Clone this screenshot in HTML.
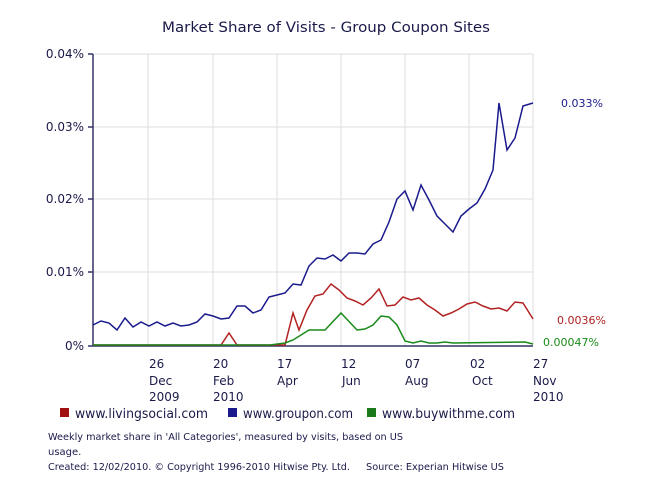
<!DOCTYPE html>
<html><head><style>
body{margin:0;background:#fff;font-family:"DejaVu Sans","Liberation Sans",sans-serif;}
</style></head><body>
<svg width="647" height="487" xmlns="http://www.w3.org/2000/svg" font-family="DejaVu Sans, Liberation Sans, sans-serif">
<rect width="647" height="487" fill="#fff"/>
<text x="162" y="32" font-size="14" fill="#1a1a4a" textLength="328" lengthAdjust="spacingAndGlyphs">Market Share of Visits - Group Coupon Sites</text>
<g stroke="#ddd" stroke-width="1">
<line x1="93" y1="54" x2="533" y2="54"/><line x1="93" y1="127" x2="533" y2="127"/>
<line x1="93" y1="199" x2="533" y2="199"/><line x1="93" y1="272" x2="533" y2="272"/>
<line x1="148" y1="54" x2="148" y2="345"/><line x1="213" y1="54" x2="213" y2="345"/>
<line x1="277" y1="54" x2="277" y2="345"/><line x1="341" y1="54" x2="341" y2="345"/>
<line x1="405" y1="54" x2="405" y2="345"/><line x1="469" y1="54" x2="469" y2="345"/>
<line x1="533" y1="54" x2="533" y2="345"/>
</g>
<g stroke="#333366" stroke-width="1.5">
<line x1="93" y1="54" x2="93" y2="346"/><line x1="93" y1="346" x2="533" y2="346"/>
<line x1="88" y1="54" x2="93" y2="54"/><line x1="88" y1="127" x2="93" y2="127"/>
<line x1="88" y1="199" x2="93" y2="199"/><line x1="88" y1="272" x2="93" y2="272"/><line x1="88" y1="346" x2="93" y2="346"/>
</g>
<g font-size="12" fill="#1a1a4a" text-anchor="end">
<text x="84" y="58">0.04%</text><text x="84" y="131">0.03%</text><text x="84" y="203">0.02%</text><text x="84" y="276">0.01%</text><text x="84" y="350">0%</text>
</g>
<g font-size="12" fill="#1a1a4a">
<text x="149" y="368">26</text><text x="149" y="385">Dec</text><text x="149" y="401">2009</text>
<text x="213" y="368">20</text><text x="213" y="385">Feb</text><text x="213" y="401">2010</text>
<text x="277" y="368">17</text><text x="277" y="385">Apr</text>
<text x="341" y="368">12</text><text x="342" y="385">Jun</text>
<text x="405" y="368">07</text><text x="405" y="385">Aug</text>
<text x="470" y="368">02</text><text x="472" y="385">Oct</text>
<text x="533" y="368">27</text><text x="533" y="385">Nov</text><text x="533" y="401">2010</text>
</g>
<polyline fill="none" stroke="#1a1a8c" stroke-width="1.5" points="93,325 101,321 109,323 117,330 125,318 133,327 141,322 149,326 157,322 165,326 173,323 181,326 189,325 197,322 205,314 213,316 221,319 229,318 237,306 245,306 253,313 261,310 269,297 277,295 285,293 293,284 301,285 309,266 317,258 325,259 333,255 341,261 349,253 357,253 365,254 373,244 381,240 389,222 397,199 405,191 413,210 421,185 429,200 437,216 445,224 453,232 461,216 469,209 477,203 485,189 493,170 499,103 507,150 515,138 523,106 533,103"/>
<polyline fill="none" stroke="#b22222" stroke-width="1.5" points="93,345 221,345 229,333 237,345 285,345 293,313 299,330 307,310 315,296 323,294 331,284 339,290 347,298 355,301 363,305 371,298 379,289 387,306 395,305 403,297 411,300 419,298 427,305 435,310 443,316 451,313 459,309 467,304 475,302 483,306 491,309 499,308 507,311 515,302 523,303 533,319"/>
<polyline fill="none" stroke="#1a8a1a" stroke-width="1.5" points="93,345 270,345 285,343 293,340 301,335 309,330 325,330 341,313 357,330 365,329 373,325 381,316 389,317 397,325 405,341 413,343 421,341 429,343 437,343 445,342 453,343 525,342 533,344"/>
<g font-size="11">
<text x="561" y="107" fill="#1a1a8c">0.033%</text>
<text x="557" y="324" fill="#b22222">0.0036%</text>
<text x="543" y="346" fill="#1a8a1a">0.00047%</text>
</g>
<g font-size="13" fill="#1a1a4a">
<rect x="60" y="408" width="9" height="9" fill="#a01010"/><text x="75" y="418" textLength="133" lengthAdjust="spacingAndGlyphs">www.livingsocial.com</text>
<rect x="228" y="408" width="9" height="9" fill="#1a1a8c"/><text x="243" y="418" textLength="110" lengthAdjust="spacingAndGlyphs">www.groupon.com</text>
<rect x="367" y="408" width="9" height="9" fill="#1a7a1a"/><text x="382" y="418" textLength="133" lengthAdjust="spacingAndGlyphs">www.buywithme.com</text>
</g>
<g font-size="10" fill="#1a1a4a">
<text x="48" y="440" textLength="355" lengthAdjust="spacingAndGlyphs">Weekly market share in 'All Categories', measured by visits, based on US</text>
<text x="48" y="455">usage.</text>
<text x="48" y="470" textLength="302" lengthAdjust="spacingAndGlyphs">Created: 12/02/2010. © Copyright 1996-2010 Hitwise Pty. Ltd.</text>
<text x="366" y="470" textLength="138" lengthAdjust="spacingAndGlyphs">Source: Experian Hitwise US</text>
</g>
</svg>
</body></html>
